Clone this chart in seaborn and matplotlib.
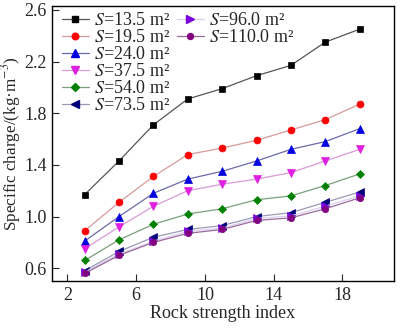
import matplotlib
matplotlib.use("Agg")
import matplotlib.pyplot as plt
import seaborn as sns
import pandas as pd
from matplotlib.lines import Line2D

# Rock strength index values (x axis)
strength = [3, 5, 7, 9, 11, 13, 15, 17, 19]

# Blasting area S (m^2) per series
areas = ["13.5", "19.5", "24.0", "37.5", "54.0", "73.5", "96.0", "110.0"]

# Specific charge (kg/m^3) for each area
q_13_5 = [1.17, 1.43, 1.71, 1.91, 1.99, 2.09, 2.17, 2.35, 2.45]
q_19_5 = [0.89, 1.11, 1.31, 1.48, 1.53, 1.59, 1.67, 1.75, 1.87]
q_24_0 = [0.81, 1.00, 1.18, 1.29, 1.35, 1.43, 1.52, 1.58, 1.68]
q_37_5 = [0.75, 0.92, 1.08, 1.20, 1.25, 1.29, 1.34, 1.43, 1.52]
q_54_0 = [0.66, 0.82, 0.94, 1.02, 1.06, 1.13, 1.16, 1.24, 1.33]
q_73_5 = [0.58, 0.73, 0.84, 0.90, 0.93, 1.00, 1.03, 1.11, 1.19]
q_96_0 = [0.57, 0.71, 0.81, 0.885, 0.91, 0.985, 1.005, 1.08, 1.16]
q_110_0 = [0.56, 0.70, 0.80, 0.87, 0.90, 0.97, 0.99, 1.06, 1.145]

series = [q_13_5, q_19_5, q_24_0, q_37_5, q_54_0, q_73_5, q_96_0, q_110_0]

marker_colors = ["#000000", "#ff0000", "#0000e0", "#e020e0", "#008000",
                 "#00007a", "#7a00e0", "#800080"]
line_colors = ["#555555", "#d89a9a", "#6a6aa8", "#d89ad8", "#7aa07a",
               "#9a9ab8", "#dccff0", "#9a6a9a"]
markers = ["s", "o", "^", "v", "D", "<", ">", "o"]
msizes = [4.2, 5.0, 5.5, 5.5, 4.2, 5.5, 5.5, 4.6]

rows = []
for a, vals in zip(areas, series):
    for x, y in zip(strength, vals):
        rows.append({"area": a, "strength": x, "charge": y})
df = pd.DataFrame(rows)

sns.set_style("ticks")
plt.rcParams["font.family"] = ["Liberation Serif", "DejaVu Serif"]
plt.rcParams["mathtext.fontset"] = "stix"
plt.rcParams["xtick.direction"] = "in"
plt.rcParams["ytick.direction"] = "in"

fig = plt.figure(figsize=(4.0, 3.3), dpi=100)
ax = fig.add_axes([0.13, 0.148, 0.855, 0.834])

handles = []
for i, a in enumerate(areas):
    sub = df[df["area"] == a]
    sns.lineplot(data=sub, x="strength", y="charge", ax=ax, legend=False,
                 color=line_colors[i], linewidth=0.9, marker=markers[i],
                 markersize=msizes[i], markerfacecolor=marker_colors[i],
                 markeredgecolor=marker_colors[i], markeredgewidth=0.5,
                 zorder=3 + i * 0.1)
    handles.append(Line2D([], [], color=line_colors[i], linewidth=0.9,
                          marker=markers[i], markersize=msizes[i] - 0.3,
                          markerfacecolor=marker_colors[i],
                          markeredgecolor=marker_colors[i]))

labels = [f"$S$=%s m²" % a for a in areas]

leg_kw = dict(loc="upper left", frameon=False, fontsize=13,
              handlelength=1.5, handletextpad=0.3, labelspacing=0.0,
              borderaxespad=0.0, borderpad=0.0)
leg1 = ax.legend(handles[:6], labels[:6], bbox_to_anchor=(0.028, 0.978),
                 **leg_kw)
ax.add_artist(leg1)
ax.legend(handles[6:], labels[6:], bbox_to_anchor=(0.365, 0.978), **leg_kw)

ax.set_xlim(1.1, 21.0)
ax.set_ylim(0.5, 2.63)
ax.set_xticks([2, 6, 10, 14, 18])
ax.set_yticks([0.6, 1.0, 1.4, 1.8, 2.2, 2.6])
ax.set_yticklabels(["0.6", "1.0", "1.4", "1.8", "2.2", "2.6"])
ax.tick_params(labelsize=13, length=5, width=0.8, pad=4,
               top=False, right=False)
for sp in ax.spines.values():
    sp.set_visible(True)
    sp.set_linewidth(1.0)
    sp.set_color("black")

ax.set_xlabel("Rock strength index", fontsize=13, labelpad=1)
ax.set_ylabel("Specific charge/(kg·m$^{-3}$)", fontsize=12.3)
ax.yaxis.set_label_coords(-0.085, 0.5)

fig.savefig("out.png", dpi=100)
